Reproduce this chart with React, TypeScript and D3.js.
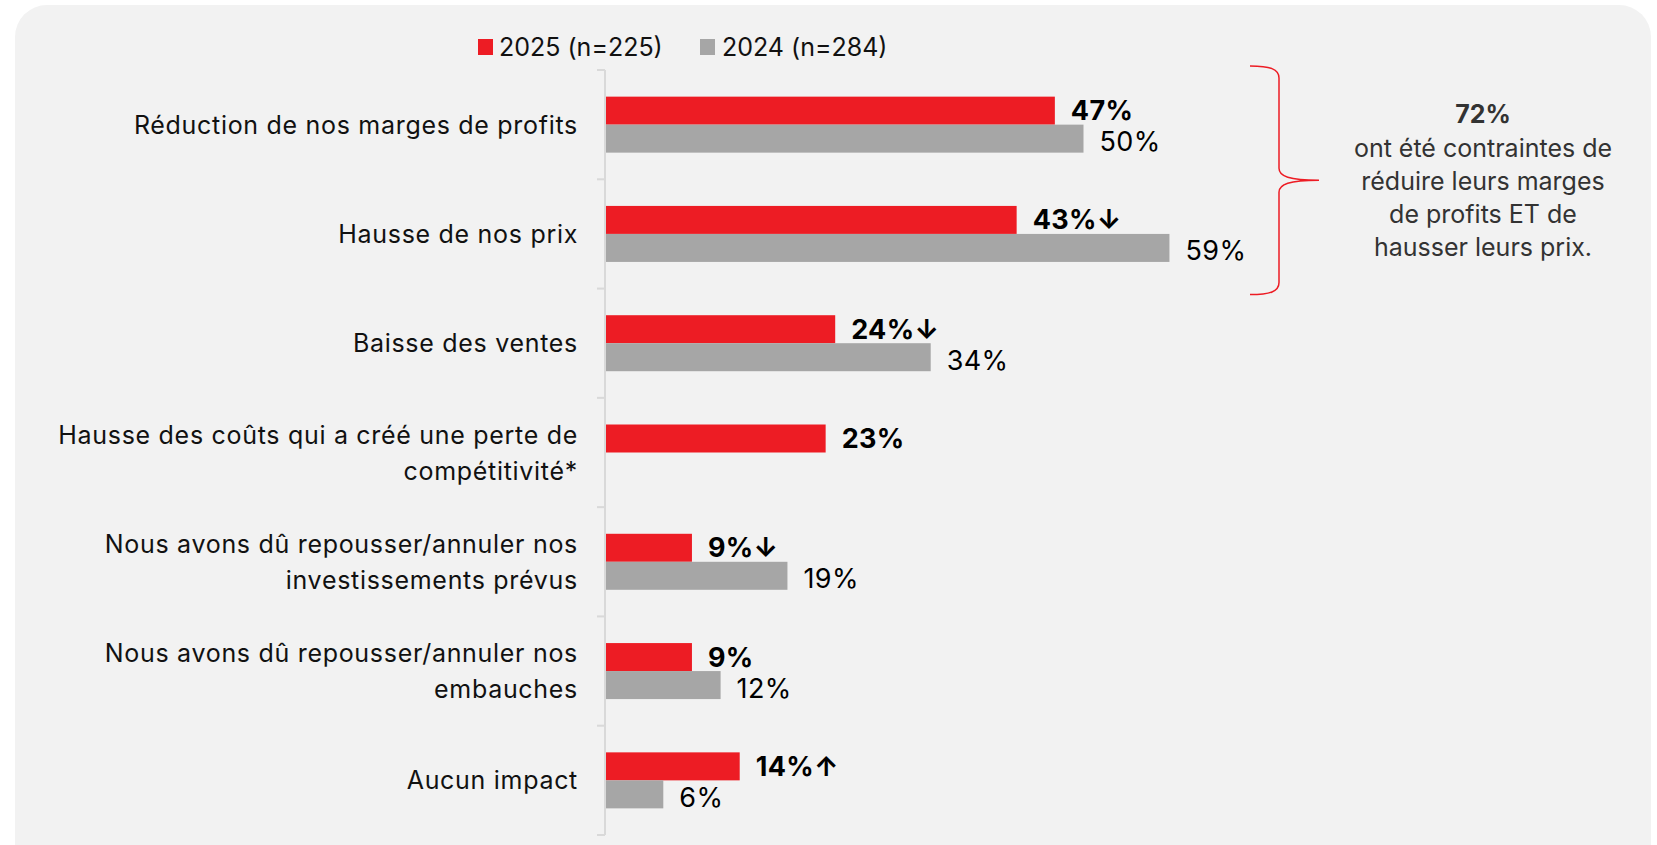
import React from "react";
import * as d3 from "d3";

// Données
const categories = [
  ["Réduction de nos marges de profits"],
  ["Hausse de nos prix"],
  ["Baisse des ventes"],
  ["Hausse des coûts qui a créé une perte de", "compétitivité*"],
  ["Nous avons dû repousser/annuler nos", "investissements prévus"],
  ["Nous avons dû repousser/annuler nos", "embauches"],
  ["Aucun impact"],
];
const values2025 = [47, 43, 24, 23, 9, 9, 14];
const values2024: (number | null)[] = [50, 59, 34, null, 19, 12, 6];
// tendance significative vs 2024
const trends = ["", "↓", "↓", "", "↓", "", "↑"];
const seriesNames = ["2025 (n=225)", "2024 (n=284)"];
const calloutValue = "72%";
const calloutLines = [
  "ont été contraintes de",
  "réduire leurs marges",
  "de profits ET de",
  "hausser leurs prix.",
];

const WIDTH = 1657;
const HEIGHT = 845;
const RED = "#ED1C24";
const GREY = "#A6A6A6";
const FONT = "Inter, 'Open Sans', sans-serif";

const App = () => {
  const keys = categories.map((_, i) => String(i));

  const x = d3.scaleLinear().domain([0, 100]).range([606, 1561]);
  const y = d3.scaleBand().domain(keys).range([70, 835]).padding(0);
  const barH = 28;
  const inner = d3
    .scaleBand()
    .domain(["2025", "2024"])
    .range([0, y.bandwidth()])
    .paddingInner(0)
    .paddingOuter((y.bandwidth() - 2 * barH) / 2 / barH);

  const ticks = [...keys.map((k) => y(k) as number), 835];

  // accolade autour des deux premières catégories
  const bTop = (y("0") as number) - 4;
  const bBot = (y("1") as number) + y.bandwidth() + 6;
  const bMid = (bTop + bBot) / 2;
  const bx0 = 1250,
    bx1 = 1279,
    bx2 = 1319;
  const brace = `M${bx0},${bTop} C${bx0 + 20},${bTop} ${bx1},${bTop + 3} ${bx1},${bTop + 12}
    L${bx1},${bMid - 12} C${bx1},${bMid - 4} ${bx1 + 10},${bMid} ${bx2},${bMid}
    C${bx1 + 10},${bMid} ${bx1},${bMid + 4} ${bx1},${bMid + 12}
    L${bx1},${bBot - 12} C${bx1},${bBot - 3} ${bx0 + 20},${bBot} ${bx0},${bBot}`;

  return (
    <>
      <style>{`body{margin:0}`}</style>
      <svg width={WIDTH} height={HEIGHT} style={{ display: "block", fontFamily: FONT }}>
        <rect x={0} y={0} width={WIDTH} height={HEIGHT} fill="#fff" />
        <rect x={15} y={5} width={1636} height={870} rx={32} fill="#F2F2F2" />

        {/* Légende */}
        <g fontSize={25} fill="#111">
          <rect x={478} y={39} width={15} height={16} fill={RED} />
          <text x={499} y={47} dominantBaseline="central">
            {seriesNames[0]}
          </text>
          <rect x={700} y={39} width={15} height={16} fill={GREY} />
          <text x={722} y={47} dominantBaseline="central">
            {seriesNames[1]}
          </text>
        </g>

        {/* Axe */}
        <line x1={x(0) - 1} x2={x(0) - 1} y1={70} y2={835} stroke="#D9D9D9" strokeWidth={2} />
        {ticks.map((t, i) => (
          <line key={i} x1={x(0) - 9} x2={x(0) - 1} y1={t} y2={t} stroke="#D9D9D9" strokeWidth={2} />
        ))}

        {/* Barres */}
        {keys.map((k, i) => {
          const y0 = (y(k) as number) + (inner("2025") as number);
          const y1 = (y(k) as number) + (inner("2024") as number);
          const v24 = values2024[i];
          return (
            <g key={k}>
              <rect x={x(0)} y={y0} width={x(values2025[i]) - x(0)} height={barH} fill={RED} />
              <text
                x={x(values2025[i]) + 16}
                y={y0 + barH / 2}
                dominantBaseline="central"
                fontSize={27}
                fontWeight="bold"
                letterSpacing={0.3}
                fill="#000"
              >
                {values2025[i]}%{trends[i]}
              </text>
              {v24 !== null && (
                <>
                  <rect x={x(0)} y={y1} width={x(v24) - x(0)} height={barH} fill={GREY} />
                  <text
                    x={x(v24) + 16}
                    y={y1 + barH / 2 + 3}
                    dominantBaseline="central"
                    fontSize={27}
                    letterSpacing={0.4}
                    fill="#000"
                  >
                    {v24}%
                  </text>
                </>
              )}
            </g>
          );
        })}

        {/* Libellés des catégories */}
        {keys.map((k, i) => {
          const lines = categories[i];
          const cy = (y(k) as number) + y.bandwidth() / 2;
          const lh = 36;
          return (
            <text key={k} textAnchor="end" fontSize={25} letterSpacing={0.7} fill="#111">
              {lines.map((l, j) => (
                <tspan
                  key={j}
                  x={578}
                  y={cy + (j - (lines.length - 1) / 2) * lh}
                  dominantBaseline="central"
                >
                  {l}
                </tspan>
              ))}
            </text>
          );
        })}

        {/* Accolade et encadré */}
        <path d={brace} fill="none" stroke={RED} strokeWidth={1.5} />
        <g textAnchor="middle" fontSize={25} fill="#333">
          <text x={1483} y={114} dominantBaseline="central" fontWeight="bold">
            {calloutValue}
          </text>
          {calloutLines.map((l, j) => (
            <text key={j} x={1483} y={148 + j * 33} dominantBaseline="central">
              {l}
            </text>
          ))}
        </g>
      </svg>
    </>
  );
};

export default App;
